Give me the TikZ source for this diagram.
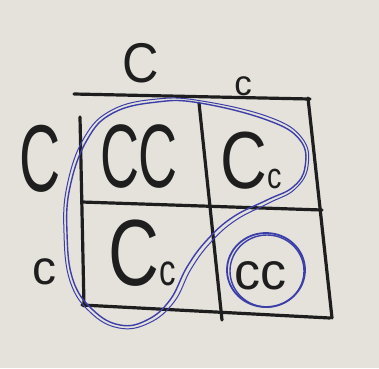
\documentclass[tikz,border=0pt]{standalone}
\usepackage{fontspec}
\setmainfont{Liberation Sans}
\definecolor{paper}{HTML}{E5E2DB}
\definecolor{ink}{HTML}{1E1E1E}
\definecolor{pen}{HTML}{3C3FA8}
\tikzset{
  letter/.style={inner sep=0pt, text=ink},
  grid/.style={draw=ink, line width=3.2pt, line cap=round},
  loop/.style={draw=pen, line width=1.4pt},
}
\newcommand{\fs}[1]{\fontsize{#1}{#1}\selectfont}
\begin{document}
\begin{tikzpicture}[x=1pt, y=-1pt]
    \useasboundingbox (0,0) rectangle (379,368);
    \fill[paper] (0,0) rectangle (379,368);

    % Ecken des Quadrats
    \coordinate (tl) at (74,94);
    \coordinate (tr) at (310,99);
    \coordinate (lt) at (80,117);
    \coordinate (lb) at (84,306);
    \coordinate (bl) at (82,305);
    \coordinate (br) at (330,318);
    \coordinate (rt) at (308,98);
    \coordinate (rb) at (332,318);
    \coordinate (ml) at (82,202);
    \coordinate (mr) at (322,210);
    \coordinate (mt) at (199,103);
    \coordinate (mb) at (222,320);

    % Linien
    \draw[grid] (tl) -- (tr);
    \draw[grid] (rt) -- (rb);
    \draw[grid] (lt) -- (lb);
    \draw[grid] (bl) -- (br);
    \draw[grid] (ml) -- (mr);
    \draw[grid] (mt) -- (mb);

    % Eltern
    \node[letter, xscale=0.9] (topC) at (141,63) {\fs{56}C};
    \node[letter] (topc) at (243,86) {\fs{35}c};
    \node[letter, xscale=0.6] (leftC) at (40,159) {\fs{95}C};
    \node[letter] (leftc) at (44,272) {\fs{48}c};

    % Kinder
    \node[letter, xscale=0.6] (CC) at (139,157) {\fs{90}CC};
    \node[letter, xscale=0.8] (Cc1) at (251,161) {\fs{81}C\fs{36}c};
    \node[letter, xscale=0.75] (Cc2) at (142,253) {\fs{94}C\fs{44}c};
    \node[letter] (cc) at (260,276) {\fs{52}cc};

    % Kreise
    \draw[loop, line width=1.8pt] (266,270) ellipse (39 and 37);
    \draw[loop] (267,271) ellipse (37 and 36);
    \draw[loop] plot[smooth cycle, tension=0.7] coordinates {
      (157,102) (200,103) (267,120) (300,140) (305,167) (293,187)
      (267,200) (233,217) (207,240) (187,267) (170,300) (147,320)
      (120,325) (93,310) (73,280) (67,233) (70,187) (87,140) (113,113)};
    \draw[loop, line width=1pt] plot[smooth cycle, tension=0.7] coordinates {
      (157,99) (202,101) (269,117) (302,138) (308,166) (295,189)
      (269,203) (236,220) (211,242) (191,269) (174,302) (149,323)
      (119,328) (90,312) (70,281) (64,233) (67,186) (84,138) (112,110)};
\end{tikzpicture}
\end{document}
